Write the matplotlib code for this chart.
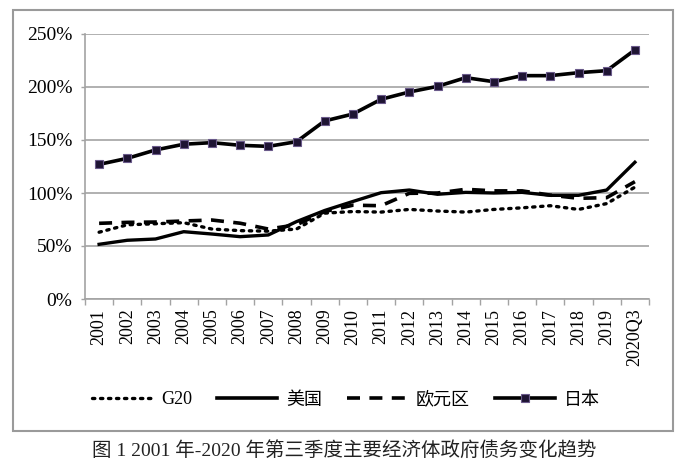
import matplotlib
matplotlib.use("Agg")
import matplotlib.pyplot as plt
from matplotlib.lines import Line2D
from matplotlib.patches import Rectangle
import numpy as np

years = ["2001", "2002", "2003", "2004", "2005", "2006", "2007", "2008", "2009", "2010",
         "2011", "2012", "2013", "2014", "2015", "2016", "2017", "2018", "2019", "2020Q3"]
g20 = [63, 70, 71, 72, 66, 64.5, 64, 66, 81, 82.5, 82, 84.5, 83, 82, 84.5, 86, 88, 84.5, 90, 105.5]
usa = [51.6, 55.4, 56.6, 63.5, 61.3, 58.8, 60.4, 73, 83.5, 92, 100.3, 102.8, 98.8, 100.6, 100, 100.6, 97.8, 97.8, 102.8, 129]
euro = [71.4, 72.3, 72.6, 73.6, 74.5, 71.5, 66, 70, 82.5, 88.5, 88, 99.7, 100, 103.5, 102, 102, 98, 95, 95.6, 110.7]
japan = [127, 132.7, 140.6, 146, 147.5, 145, 144, 148.4, 168, 174.5, 188.4, 195.3, 200.6, 208.8, 205, 210.7, 210.7, 213.5, 215.4, 235]
yticks = [0, 50, 100, 150, 200, 250]
labels = ["G20", "美国", "欧元区", "日本"]
caption = "图 1 2001 年-2020 年第三季度主要经济体政府债务变化趋势"

FAM = ["Liberation Serif", "Noto Sans CJK SC", "DejaVu Sans"]
plt.rcParams["font.family"] = FAM

W, H = 688, 466
fig = plt.figure(figsize=(W / 100, H / 100), dpi=100)
ax = fig.add_axes([85 / W, 1 - 299 / H, (649 - 85) / W, (299 - 34) / H])

grid_c = "#a3a3a3"
x = np.arange(len(years))
dot_ls = (0, (0.7, 1.7))
dash_ls = (0, (3.6, 2.6))

ax.plot(x, g20, color="black", lw=2.4, linestyle=dot_ls, dash_capstyle="round", zorder=3)
ax.plot(x, usa, color="black", lw=2.4, zorder=4)
ax.plot(x, euro, color="black", lw=2.6, linestyle=dash_ls, zorder=3)
ax.plot(x, japan, color="black", lw=2.6, marker="s", markersize=5.5,
        markerfacecolor="#1e1433", markeredgecolor="#6a5a8a", markeredgewidth=0.8, zorder=5)

ax.set_xlim(-0.5, len(years) - 0.5)
ax.set_ylim(0, 250)
ax.set_yticks(yticks)
ax.set_yticklabels([f"{v}%" for v in yticks], fontsize=14)
ax.yaxis.grid(True, color=grid_c, lw=1.2)
ax.set_axisbelow(True)

ax.set_xticks(x)
ax.set_xticklabels(years, rotation=90, fontsize=13, va="top")
ax.set_xticks(np.arange(-0.5, len(years)), minor=True)
ax.tick_params(axis="x", which="major", length=0, pad=7)
ax.tick_params(axis="x", which="minor", length=4, color=grid_c, width=1)
ax.tick_params(axis="y", length=3, color=grid_c, width=1, pad=6)

for s in ["top", "right"]:
    ax.spines[s].set_visible(False)
for s in ["left", "bottom"]:
    ax.spines[s].set_color(grid_c)
    ax.spines[s].set_linewidth(1.2)

handles = [
    Line2D([], [], color="black", lw=2.4, linestyle=dot_ls, dash_capstyle="round"),
    Line2D([], [], color="black", lw=2.6),
    Line2D([], [], color="black", lw=2.6, linestyle=dash_ls),
    Line2D([], [], color="black", lw=2.6, marker="s", markersize=5.5,
           markerfacecolor="#1e1433", markeredgecolor="#6a5a8a", markeredgewidth=0.8),
]
leg = fig.legend(handles, labels, loc="center", bbox_to_anchor=(346 / W, 1 - 400 / H),
                 ncol=4, frameon=False, fontsize=13, handlelength=3.3,
                 handletextpad=0.5, columnspacing=1.4)

fig.patches.append(Rectangle((13 / W, 1 - 431 / H), (673 - 13) / W, (431 - 10) / H,
                             transform=fig.transFigure, fill=False, edgecolor="#9a9a9a", lw=1.5))

fig.text(344 / W, 1 - 450 / H, caption, ha="center", va="center", fontsize=14, color="#222222")

fig.savefig("out.png", dpi=100)
